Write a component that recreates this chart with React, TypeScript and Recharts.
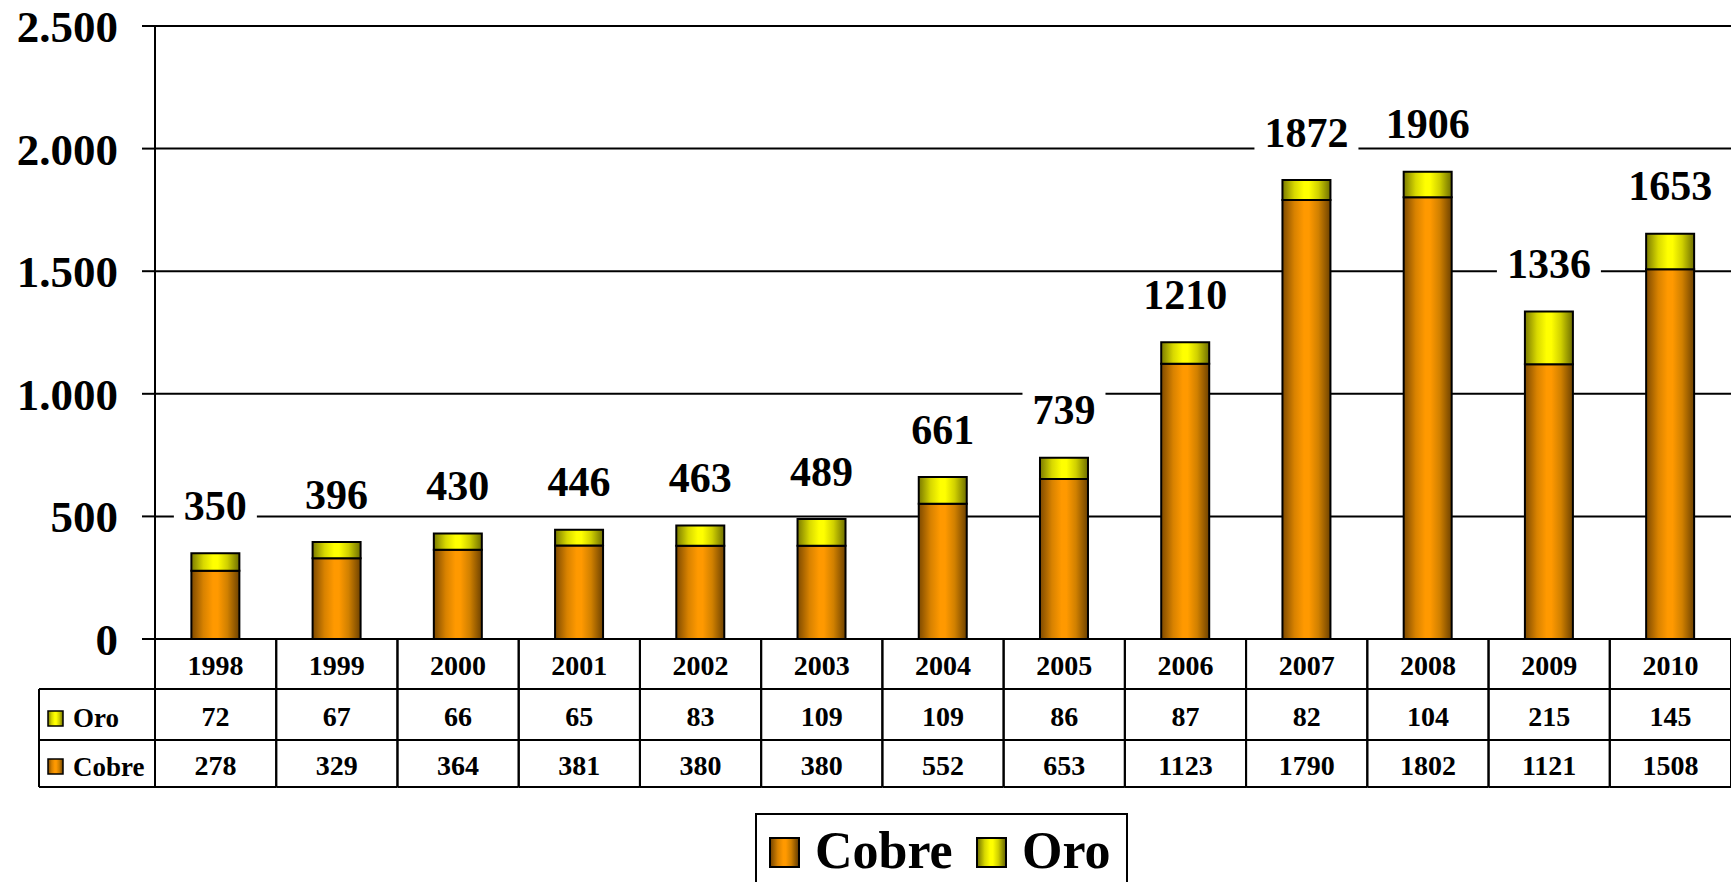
import React from 'react';
import { BarChart, Bar, XAxis, YAxis, CartesianGrid, LabelList } from 'recharts';

const years = ['1998', '1999', '2000', '2001', '2002', '2003', '2004', '2005', '2006', '2007', '2008', '2009', '2010'];
const oro = [72, 67, 66, 65, 83, 109, 109, 86, 87, 82, 104, 215, 145];
const cobre = [278, 329, 364, 381, 380, 380, 552, 653, 1123, 1790, 1802, 1121, 1508];
const totals = [350, 396, 430, 446, 463, 489, 661, 739, 1210, 1872, 1906, 1336, 1653];
const yTicks = [0, 500, 1000, 1500, 2000, 2500];

const data = years.map((y, i) => ({ year: y, Cobre: cobre[i], Oro: oro[i], total: totals[i] }));

const W = 1731;
const H = 882;
const AXIS_W = 155;
const TABLE_H = 148;
const FONT = '"Liberation Serif", "Times New Roman", serif';
const BAND = (W - AXIS_W) / years.length;

const fmt = (v: number) => String(v).replace(/\B(?=(\d{3})+(?!\d))/g, '.');

const TableTick = (props: any) => {
  const { x, y, index } = props;
  const i = index as number;
  const l = x - BAND / 2;
  const r = x + BAND / 2;
  const txt = { fontFamily: FONT, fontWeight: 700, fontSize: 28, fill: '#000' } as any;
  return (
    <g>
      <line x1={l} x2={l} y1={y} y2={y + TABLE_H} stroke="#000" strokeWidth={2} />
      <line x1={r} x2={r} y1={y} y2={y + TABLE_H} stroke="#000" strokeWidth={2} />
      <line x1={l} x2={r} y1={y + 50} y2={y + 50} stroke="#000" strokeWidth={2} />
      <line x1={l} x2={r} y1={y + 101} y2={y + 101} stroke="#000" strokeWidth={2} />
      <line x1={l} x2={r} y1={y + TABLE_H} y2={y + TABLE_H} stroke="#000" strokeWidth={2} />
      <text x={x} y={y + 26} dy="0.35em" textAnchor="middle" {...txt}>{years[i]}</text>
      <text x={x} y={y + 77} dy="0.35em" textAnchor="middle" {...txt}>{oro[i]}</text>
      <text x={x} y={y + 126} dy="0.35em" textAnchor="middle" {...txt}>{cobre[i]}</text>
      {i === 0 && (
        <g>
          <line x1={39} x2={l} y1={y + 50} y2={y + 50} stroke="#000" strokeWidth={2} />
          <line x1={39} x2={l} y1={y + 101} y2={y + 101} stroke="#000" strokeWidth={2} />
          <line x1={39} x2={l} y1={y + TABLE_H} y2={y + TABLE_H} stroke="#000" strokeWidth={2} />
          <line x1={39} x2={39} y1={y + 50} y2={y + TABLE_H} stroke="#000" strokeWidth={2} />
          <rect x={48} y={y + 72} width={15} height={15} fill="url(#gOro)" stroke="#000" strokeWidth={1.5} />
          <text x={73} y={y + 79} dy="0.35em" textAnchor="start" {...txt} fontSize={27}>Oro</text>
          <rect x={48} y={y + 120} width={15} height={15} fill="url(#gCobre)" stroke="#000" strokeWidth={1.5} />
          <text x={73} y={y + 128} dy="0.35em" textAnchor="start" {...txt} fontSize={27}>Cobre</text>
        </g>
      )}
    </g>
  );
};

const TotalLabel = (props: any) => {
  const { x, y, width, value } = props;
  const text = String(value);
  const cx = Number(x) + Number(width) / 2;
  const cy = Number(y) - 48;
  const w = text.length * 21 + 20;
  const h = 42;
  return (
    <g>
      <rect x={cx - w / 2} y={cy - h / 2} width={w} height={h} fill="#fff" />
      <text x={cx} y={cy} dy="0.35em" textAnchor="middle" fontFamily={FONT} fontWeight={700} fontSize={42} fill="#000">
        {text}
      </text>
    </g>
  );
};

const cobreGrad = 'linear-gradient(to right, #7e4a00 0%, #d88200 25%, #ff9900 45%, #ff9900 55%, #d08000 75%, #6e4200 100%)';
const oroGrad = 'linear-gradient(to right, #7a7a00 0%, #d8d800 25%, #ffff00 45%, #ffff00 55%, #d0d000 75%, #6e6e00 100%)';

export default function App() {
  return (
    <div style={{ position: 'absolute', left: 0, top: 0, width: W, height: H, overflow: 'hidden', background: '#fff' }}>
      <svg width={0} height={0} style={{ position: 'absolute' }}>
        <defs>
          <linearGradient id="gCobre" x1="0" y1="0" x2="1" y2="0">
            <stop offset="0%" stopColor="#7e4a00" />
            <stop offset="25%" stopColor="#d88200" />
            <stop offset="45%" stopColor="#ff9900" />
            <stop offset="55%" stopColor="#ff9900" />
            <stop offset="75%" stopColor="#d08000" />
            <stop offset="100%" stopColor="#6e4200" />
          </linearGradient>
          <linearGradient id="gOro" x1="0" y1="0" x2="1" y2="0">
            <stop offset="0%" stopColor="#7a7a00" />
            <stop offset="25%" stopColor="#d8d800" />
            <stop offset="45%" stopColor="#ffff00" />
            <stop offset="55%" stopColor="#ffff00" />
            <stop offset="75%" stopColor="#d0d000" />
            <stop offset="100%" stopColor="#6e6e00" />
          </linearGradient>
        </defs>
      </svg>
      <BarChart
        width={W}
        height={H}
        data={data}
        margin={{ top: 26, right: 0, left: 0, bottom: H - 26 - 613 - TABLE_H }}
        barCategoryGap="30%"
      >
        <CartesianGrid vertical={false} stroke="#000" strokeWidth={2} />
        <XAxis
          dataKey="year"
          height={TABLE_H}
          interval={0}
          tickSize={0}
          tickMargin={0}
          tickLine={false}
          axisLine={{ stroke: '#000', strokeWidth: 2 }}
          tick={<TableTick />}
        />
        <YAxis
          width={AXIS_W}
          domain={[0, 2500]}
          ticks={yTicks}
          interval={0}
          tickSize={13}
          tickMargin={24}
          tickFormatter={fmt}
          axisLine={{ stroke: '#000', strokeWidth: 2 }}
          tickLine={{ stroke: '#000', strokeWidth: 2 }}
          tick={{ fontFamily: FONT, fontWeight: 700, fontSize: 45, fill: '#000' }}
        />
        <Bar dataKey="Cobre" stackId="a" fill="url(#gCobre)" stroke="#000" strokeWidth={2} isAnimationActive={false} />
        <Bar dataKey="Oro" stackId="a" fill="url(#gOro)" stroke="#000" strokeWidth={2} isAnimationActive={false}>
          <LabelList dataKey="total" content={<TotalLabel />} />
        </Bar>
      </BarChart>
      <div
        style={{
          position: 'absolute',
          left: 755,
          top: 813,
          width: 369,
          height: 90,
          border: '2px solid #000',
          background: '#fff',
          fontFamily: FONT,
          fontWeight: 700,
          fontSize: 52,
          color: '#000',
        }}
      >
        <div style={{ position: 'absolute', left: 12, top: 22, width: 27, height: 27, border: '2px solid #000', background: cobreGrad }} />
        <div style={{ position: 'absolute', left: 58, top: 8, lineHeight: '56px' }}>Cobre</div>
        <div style={{ position: 'absolute', left: 219, top: 22, width: 27, height: 27, border: '2px solid #000', background: oroGrad }} />
        <div style={{ position: 'absolute', left: 265, top: 8, lineHeight: '56px' }}>Oro</div>
      </div>
    </div>
  );
}
